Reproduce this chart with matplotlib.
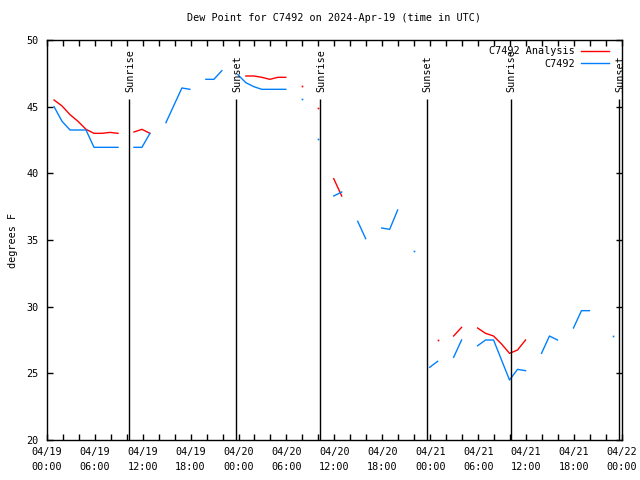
import numpy as np
import matplotlib
matplotlib.use("Agg")
import matplotlib.pyplot as plt
from matplotlib.ticker import MultipleLocator

nan = np.nan

# hours after 04/19 00:00 UTC (observations at :55)
hours = np.arange(1, 72) - 5 / 60.0

obs = [45.0, 43.9, 43.25, 43.25, 43.25, 41.95, 41.95, 41.95, 41.95, nan,
       41.95, 41.95, 43.0, nan, 43.8, 45.1, 46.4, 46.3, nan, 47.05,
       47.05, 47.7, nan, 47.4, 46.8, 46.5, 46.3, 46.3, 46.3, 46.3,
       nan, 45.6, nan, 42.6, nan, 38.3, 38.6, nan, 36.4, 35.1,
       nan, 35.9, 35.8, 37.25, nan, 34.15, nan, 25.45, 25.9, nan,
       26.2, 27.5, nan, 27.07, 27.5, 27.5, 26.0, 24.5, 25.3, 25.2,
       nan, 26.5, 27.8, 27.5, nan, 28.4, 29.7, 29.7, nan, nan,
       27.8]

analysis = [45.5, 45.05, 44.4, 43.9, 43.3, 43.0, 43.0, 43.07, 43.0, nan,
            43.1, 43.3, 43.0, nan, nan, nan, nan, nan, nan, nan,
            nan, nan, nan, nan, 47.3, 47.3, 47.2, 47.05, 47.2, 47.2,
            nan, 46.55, nan, 44.9, nan, 39.6, 38.3, nan, nan, nan,
            nan, nan, nan, nan, nan, nan, nan, nan, 27.5, nan,
            27.8, 28.45, nan, 28.4, 28.0, 27.8, 27.2, 26.5, 26.75, 27.5,
            nan, nan, nan, nan, nan, nan, nan, nan, nan, nan,
            nan]

sun_times = [10.33, 23.7, 34.25, 47.58, 58.08, 71.67]
sun_labels = ["Sunrise", "Sunset", "Sunrise", "Sunset", "Sunrise", "Sunset"]

tick_hours = np.arange(0, 73, 6)
tick_labels = ["04/19\n00:00", "04/19\n06:00", "04/19\n12:00", "04/19\n18:00",
               "04/20\n00:00", "04/20\n06:00", "04/20\n12:00", "04/20\n18:00",
               "04/21\n00:00", "04/21\n06:00", "04/21\n12:00", "04/21\n18:00",
               "04/22\n00:00"]
y_ticks = [20, 25, 30, 35, 40, 45, 50]

plt.rcParams['font.family'] = ['DejaVu Sans Mono']
plt.rcParams['font.size'] = 7.3
plt.rcParams['xtick.major.pad'] = 5
plt.rcParams['ytick.major.pad'] = 6
plt.rcParams['xtick.direction'] = 'in'
plt.rcParams['ytick.direction'] = 'in'

fig = plt.figure(figsize=(6.4, 4.8), dpi=100)
ax = fig.add_axes([0.073, 0.0833, 0.899, 0.8334])


def isolated(y):
    y = np.asarray(y, dtype=float)
    ok = ~np.isnan(y)
    prev = np.r_[False, ok[:-1]]
    nxt = np.r_[ok[1:], False]
    return ok & ~prev & ~nxt


red = '#ff0000'
blue = '#0080ff'
ax.plot(hours, analysis, color=red, lw=1, label='C7492 Analysis')
ax.plot(hours, obs, color=blue, lw=1, label='C7492')
m = isolated(analysis)
ax.plot(hours[m], np.asarray(analysis)[m], 's', color=red, ms=1.2, mew=0)
m = isolated(obs)
ax.plot(hours[m], np.asarray(obs)[m], 's', color=blue, ms=1.2, mew=0)

for t, lab in zip(sun_times, sun_labels):
    ax.vlines(t, 20, 45.6, color='black', lw=1)
    ax.text(t + 0.1, 46.1, lab, rotation=90, ha='center', va='bottom')

ax.set_xlim(0, 72)
ax.set_ylim(20, 50)
ax.set_xticks(tick_hours)
ax.set_xticklabels(tick_labels, linespacing=1.6)
ax.xaxis.set_minor_locator(MultipleLocator(2))
ax.set_yticks(y_ticks)
ax.set_yticklabels([str(v) for v in y_ticks])
ax.tick_params(which='both', top=True, right=True, length=4, width=1)
for s in ax.spines.values():
    s.set_linewidth(1)

ax.set_title('Dew Point for C7492 on 2024-Apr-19 (time in UTC)', fontsize=7.3, pad=14)
ax.set_ylabel('degrees F', labelpad=6)

ax.legend(loc='upper right', frameon=False, markerfirst=False, handlelength=2.8,
          borderaxespad=0.2, labelspacing=0.25, handletextpad=0.6,
          bbox_to_anchor=(0.988, 1.0))

fig.savefig('out.png', dpi=100)
